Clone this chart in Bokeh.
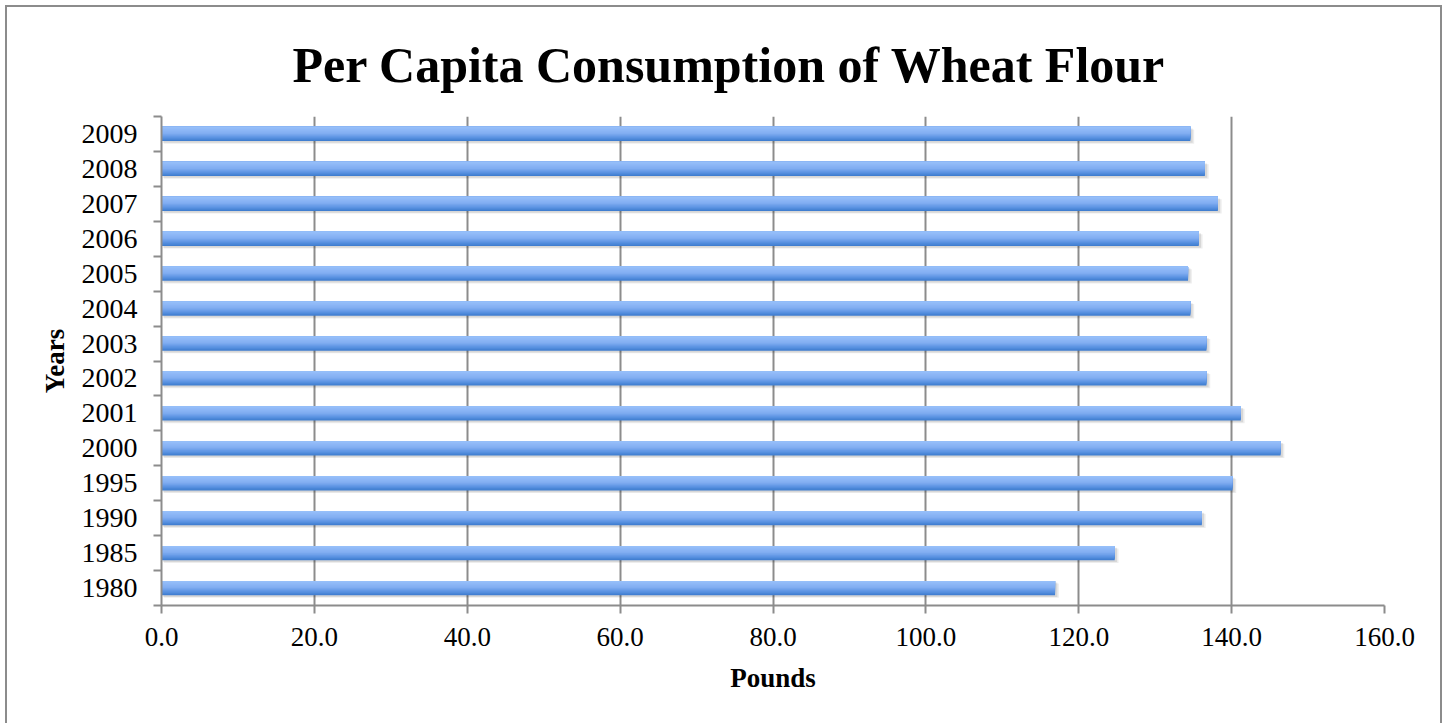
from bokeh.plotting import figure
from bokeh.models import (LinearAxis, Range1d, FixedTicker,
                          NumeralTickFormatter, Grid)
from bokeh.embed import file_html
from bokeh.resources import INLINE

# ---- data ----
years = ["1980", "1985", "1990", "1995", "2000", "2001", "2002",
         "2003", "2004", "2005", "2006", "2007", "2008", "2009"]
pounds = [116.9, 124.7, 136.1, 140.1, 146.4, 141.2, 136.7,
          136.7, 134.6, 134.3, 135.7, 138.2, 136.5, 134.6]
x_ticks = [0, 20, 40, 60, 80, 100, 120, 140, 160]

title_text = "Per Capita Consumption of Wheat Flour"
x_label = "Pounds"
y_label = "Years"

GRAY = "#8c8c8c"
SERIF = "Liberation Serif"

n = len(years)
centers = [i + 0.5 for i in range(n)]

p = figure(width=1437, height=725, y_range=Range1d(0, n),
           x_range=Range1d(0, 160), output_backend="svg", toolbar_location=None,
           x_axis_location=None, y_axis_location=None,
           min_border_left=154, min_border_right=60, min_border_top=109,
           min_border_bottom=127)
p.styles = {"border": "2px solid " + GRAY, "margin-left": "5px", "margin-top": "5px"}
p.outline_line_color = None
p.background_fill_color = "white"
p.border_fill_color = "white"

p.title.text = title_text
p.title.align = "left"
p.title.offset = 131
p.title.text_font = SERIF
p.title.text_font_style = "bold"
p.title.text_font_size = "50px"
p.title.text_color = "black"
p.title.standoff = 48

p.xgrid.visible = False
p.ygrid.visible = False

# x axis
xa = LinearAxis(ticker=FixedTicker(ticks=x_ticks),
                formatter=NumeralTickFormatter(format="0.0"))
xa.axis_line_color = GRAY
xa.axis_line_width = 2
xa.major_tick_line_color = GRAY
xa.major_tick_line_width = 2
xa.major_tick_out = 8
xa.major_tick_in = 0
xa.minor_tick_line_color = None
xa.major_label_text_font = SERIF
xa.major_label_text_font_size = "27px"
xa.major_label_text_color = "black"
xa.major_label_standoff = 14
xa.axis_label = x_label
xa.axis_label_text_font = SERIF
xa.axis_label_text_font_style = "bold"
xa.axis_label_text_font_size = "27px"
xa.axis_label_text_color = "black"
xa.axis_label_standoff = 14
p.add_layout(xa, "below")

g = Grid(dimension=0, ticker=xa.ticker)
g.grid_line_color = GRAY
g.grid_line_width = 2
p.add_layout(g)

# y tick axis (band boundaries)
ya_ticks = LinearAxis(ticker=FixedTicker(ticks=list(range(n + 1))))
ya_ticks.axis_line_color = GRAY
ya_ticks.axis_line_width = 2
ya_ticks.major_tick_line_color = GRAY
ya_ticks.major_tick_line_width = 2
ya_ticks.major_tick_out = 8
ya_ticks.major_tick_in = 0
ya_ticks.minor_tick_line_color = None
ya_ticks.major_label_overrides = {i: "" for i in range(n + 1)}
ya_ticks.major_label_standoff = 0
p.add_layout(ya_ticks, "left")

# y label axis (year names at band centres)
ya = LinearAxis(ticker=FixedTicker(ticks=centers))
ya.major_label_overrides = {c: y for c, y in zip(centers, years)}
ya.axis_line_color = None
ya.major_tick_line_color = None
ya.minor_tick_line_color = None
ya.major_tick_out = 0
ya.major_tick_in = 0
ya.major_label_text_font = SERIF
ya.major_label_text_font_size = "28px"
ya.major_label_text_color = "black"
ya.major_label_standoff = 16
ya.axis_label = y_label
ya.axis_label_text_font = SERIF
ya.axis_label_text_font_style = "bold"
ya.axis_label_text_font_size = "27px"
ya.axis_label_text_color = "black"
ya.axis_label_standoff = 9
p.add_layout(ya, "left")

# bars: soft shadow + vertical gradient (painted light-over-dark, no seams)
BAR_H = 0.41
p.hbar(y=[v - 0.075 for v in centers], right=[v + 0.5 for v in pounds], left=0.3,
       height=BAR_H, fill_color="#000000", fill_alpha=0.07, line_color=None)
p.hbar(y=[v - 0.05 for v in centers], right=[v + 0.3 for v in pounds], left=0.2,
       height=BAR_H, fill_color="#000000", fill_alpha=0.09, line_color=None)

stops = [(0.0, (0x98, 0xc0, 0xfa)), (0.45, (0x82, 0xae, 0xf2)),
         (0.75, (0x5b, 0x93, 0xe2)), (1.0, (0x3b, 0x7a, 0xcd))]


def grad(t):
    for (t0, c0), (t1, c1) in zip(stops[:-1], stops[1:]):
        if t <= t1:
            f = (t - t0) / (t1 - t0)
            return "#%02x%02x%02x" % tuple(int(round(c0[j] + (c1[j] - c0[j]) * f))
                                           for j in range(3))
    return "#%02x%02x%02x" % stops[-1][1]


N = 14
for k in range(N, 0, -1):
    frac = k / N  # covered fraction from the top
    t = (k - 0.5) / N
    h = BAR_H * frac
    yc = [v + BAR_H / 2 - h / 2 for v in centers]
    p.hbar(y=yc, right=pounds, left=0, height=h,
           fill_color=grad(t), line_color=None)

open("out.html", "w").write(file_html(p, INLINE))
